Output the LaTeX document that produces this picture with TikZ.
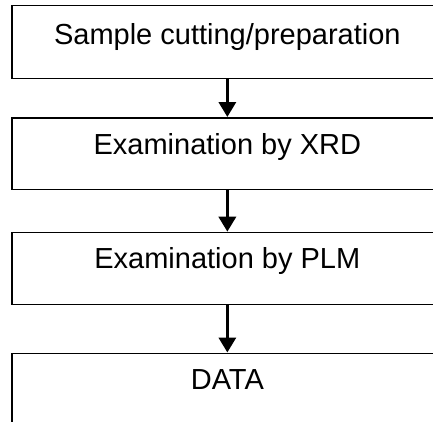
\documentclass[tikz,border=0pt]{standalone}
\usepackage{fontspec}
\setmainfont{Liberation Sans}
\usetikzlibrary{arrows.meta}
\begin{document}
\begin{tikzpicture}[x=1pt,y=-1pt,
  stepbox/.style={draw=black, line width=1.7pt, rectangle, inner xsep=0pt, inner ysep=0pt,
    minimum width=431pt, anchor=north west, font=\fontsize{29}{34}\selectfont},
  flowarrow/.style={draw=black, line width=3.4pt, -{Triangle[length=15pt,width=17pt]}}]
\useasboundingbox (0,0) rectangle (433,421);
\clip (0,0) rectangle (433,421);
\node[stepbox, text height=38.8pt, text depth=34.2pt] (b1) at (11,4.5) {Sample cutting/preparation};
\node[stepbox, text height=36.3pt, text depth=35.2pt] (b2) at (11,117) {Examination by XRD};
\node[stepbox, text height=36.3pt, text depth=35.5pt] (b3) at (11,231.7) {Examination by PLM};
\node[stepbox, text height=36.5pt, text depth=40pt] (b4) at (11,352.5) {DATA};
\draw[flowarrow] (b1.south) -- (b2.north);
\draw[flowarrow] (b2.south) -- (b3.north);
\draw[flowarrow] (b3.south) -- (b4.north);
\end{tikzpicture}
\end{document}
